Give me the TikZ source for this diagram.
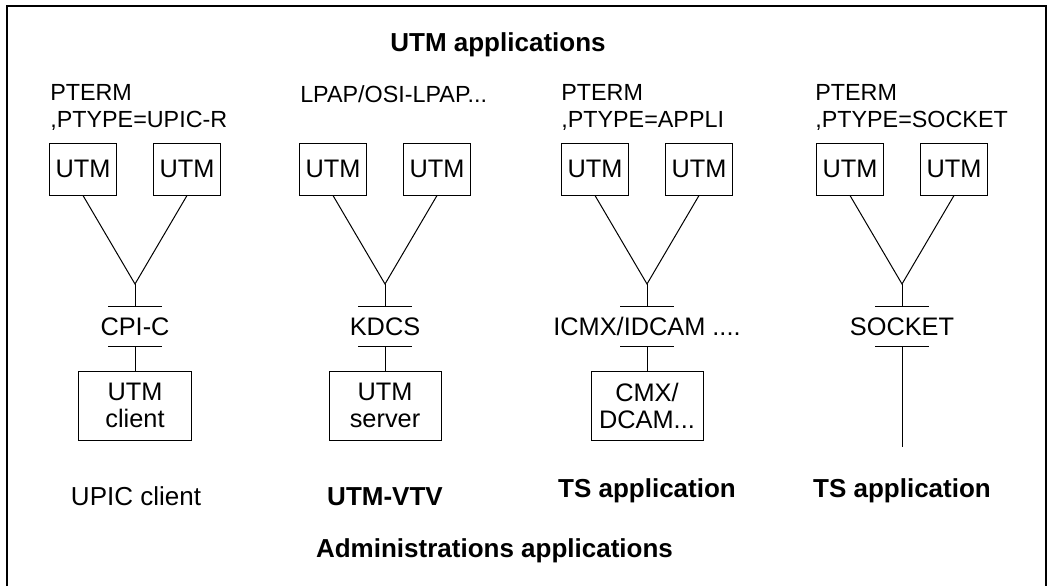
\documentclass[tikz,border=0pt]{standalone}
\usepackage{fontspec}
\setmainfont{Liberation Sans}
\begin{document}
\begin{tikzpicture}[x=0.75pt,y=-0.75pt,
  toplbl/.style={font=\fontsize{17.5}{20}\selectfont, anchor=base west, inner sep=0},
  utmbox/.style={draw, line width=0.75pt, minimum width=50.25pt, minimum height=39pt, inner sep=0, font=\fontsize{19}{20}\selectfont},
  bigbox/.style={draw, line width=0.75pt, minimum width=84pt, minimum height=51.75pt, inner sep=0, align=center, font=\fontsize{19}{20.25}\selectfont},
  iface/.style={font=\fontsize{19}{20}\selectfont, anchor=base, inner sep=0},
  caplbl/.style={font=\fontsize{19.5}{20}\selectfont, anchor=base, inner sep=0},
  boldlbl/.style={font=\bfseries\fontsize{19.5}{20}\selectfont, anchor=base, inner sep=0},
  wire/.style={line width=0.75pt},
  frame/.style={line width=1.1pt}]
\useasboundingbox (0,0) rectangle (1059,586);
% frame
\coordinate (fbl) at (7,586);
\coordinate (ftl) at (7,6);
\coordinate (ftr) at (1046,6);
\coordinate (fbr) at (1046,586);
\draw[frame] (fbl) -- (ftl) -- (ftr) -- (fbr);
% titles
\node[boldlbl] (title) at (498,51) {UTM applications};
\node[boldlbl] (admin) at (494.5,557) {Administrations applications};
% top labels
\node[toplbl] (p1a) at (50,100) {PTERM};
\node[toplbl] (p1b) at (50,127) {,PTYPE=UPIC-R};
\node[toplbl] (p2a) at (300,102) {LPAP/OSI-LPAP...};
\node[toplbl] (p3a) at (561,100) {PTERM};
\node[toplbl] (p3b) at (561,127) {,PTYPE=APPLI};
\node[toplbl] (p4a) at (815,100) {PTERM};
\node[toplbl] (p4b) at (815,127) {,PTYPE=SOCKET};
% groups
\foreach \i/\x in {1/135,2/385,3/647,4/902}{
  \node[utmbox] (ua\i) at (\x-52,169) {UTM};
  \node[utmbox] (ub\i) at (\x+52,169) {UTM};
  \coordinate (j\i) at (\x,284);
  \coordinate (tb\i) at (\x,306);
  \coordinate (tbl\i) at (\x-27,306);
  \coordinate (tbr\i) at (\x+27,306);
  \coordinate (lb\i) at (\x,346);
  \coordinate (lbl\i) at (\x-27,346);
  \coordinate (lbr\i) at (\x+27,346);
  \draw[wire] (ua\i.south) -- (j\i) -- (ub\i.south);
  \draw[wire] (j\i) -- (tb\i);
  \draw[wire] (tbl\i) -- (tbr\i);
  \draw[wire] (lbl\i) -- (lbr\i);
}
\node[iface] (if1) at (135,335) {CPI-C};
\node[iface] (if2) at (385,335) {KDCS};
\node[iface] (if3) at (647,335) {ICMX/IDCAM ....};
\node[iface] (if4) at (902,335) {SOCKET};
% lower boxes
\node[bigbox, minimum width=84.75pt] (bx1) at (135,405.5) {UTM\\client};
\node[bigbox] (bx2) at (385,405.5) {UTM\\server};
\node[bigbox] (bx3) at (647,405.5) {CMX/\\DCAM...};
\draw[wire] (lb1) -- (bx1.north);
\draw[wire] (lb2) -- (bx2.north);
\draw[wire] (lb3) -- (bx3.north);
\coordinate (end4) at (902,447);
\draw[wire] (lb4) -- (end4);
% bottom labels
\node[caplbl] (c1) at (136,505) {UPIC client};
\node[boldlbl] (c2) at (385,505) {UTM-VTV};
\node[boldlbl] (c3) at (647,497) {TS application};
\node[boldlbl] (c4) at (902,497) {TS application};
\end{tikzpicture}
\end{document}
